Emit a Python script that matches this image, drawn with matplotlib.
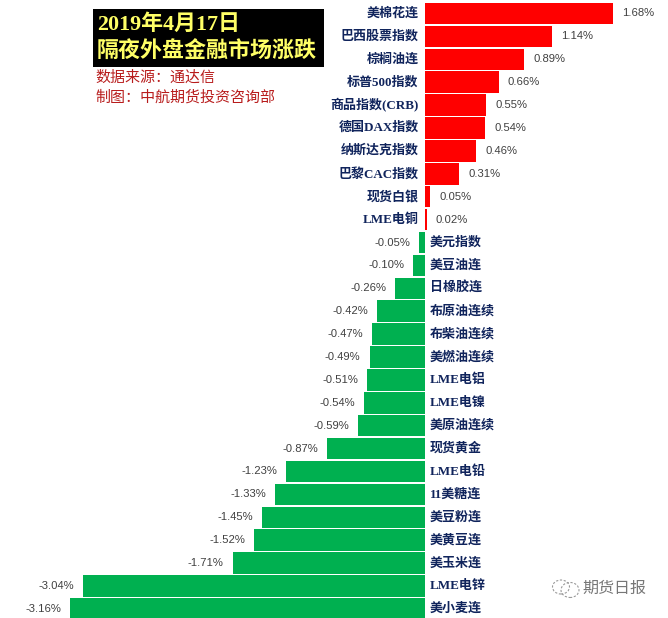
import matplotlib
matplotlib.use('Agg')
import matplotlib.pyplot as plt
from matplotlib.patches import Rectangle, Ellipse

# names and changes, top to bottom
names = ['美棉花连', '巴西股票指数', '棕榈油连', '标普500指数', '商品指数(CRB)', '德国DAX指数',
         '纳斯达克指数', '巴黎CAC指数', '现货白银', 'LME电铜', '美元指数', '美豆油连', '日橡胶连',
         '布原油连续', '布柴油连续', '美燃油连续', 'LME电铝', 'LME电镍', '美原油连续', '现货黄金',
         'LME电铅', '11美糖连', '美豆粉连', '美黄豆连', '美玉米连', 'LME电锌', '美小麦连']
changes = [1.68, 1.14, 0.89, 0.66, 0.55, 0.54, 0.46, 0.31, 0.05, 0.02, -0.05, -0.10, -0.26,
           -0.42, -0.47, -0.49, -0.51, -0.54, -0.59, -0.87, -1.23, -1.33, -1.45, -1.52,
           -1.71, -3.04, -3.16]

title_lines = ['2019年4月17日', '隔夜外盘金融市场涨跌']
source_lines = ['数据来源：通达信', '制图：中航期货投资咨询部']
watermark = '期货日报'

W, H = 668, 618
serif_cjk = ['Liberation Serif', 'Noto Sans CJK SC']
sans_cjk = ['Liberation Sans', 'Noto Sans CJK SC']
navy = '#10245c'


def px(n):
    # pixels to points at dpi 100
    return n * 0.72


fig = plt.figure(figsize=(W / 100, H / 100), dpi=100)
ax = fig.add_axes([0, 0, 1, 1])

# scale: 112.2 px per 1%, rows 22.9 px apart
ax.set_xlim(-424.5 / 112.2, (W - 424.5) / 112.2)
ax.set_ylim((H - 13.5) / 22.9, -13.5 / 22.9)
ax.axis('off')

rows = list(range(len(names)))
colors = ['#ff0000' if c > 0 else '#00b050' for c in changes]
ax.barh(rows, changes, height=0.94, color=colors, linewidth=0)

for r, name, c in zip(rows, names, changes):
    if c > 0:
        ax.annotate(name, (0, r), xytext=(px(-6), 0), textcoords='offset points', ha='right',
                    va='center', fontsize=px(13), fontweight='bold', color=navy, family=serif_cjk)
        ax.annotate(f'{c:.2f}%', (c, r), xytext=(px(9), 0), textcoords='offset points', ha='left',
                    va='center', fontsize=px(11.3), color='#404040', family=sans_cjk)
    else:
        ax.annotate(name, (0, r), xytext=(px(5.5), 0), textcoords='offset points', ha='left',
                    va='center', fontsize=px(13), fontweight='bold', color=navy, family=serif_cjk)
        ax.annotate(f'{c:.2f}%', (c, r), xytext=(px(-9), 0), textcoords='offset points', ha='right',
                    va='center', fontsize=px(11.3), color='#404040', family=sans_cjk)

# title block
fig.add_artist(Rectangle((93 / W, 1 - 67 / H), 231 / W, 58 / H, color='black',
                         transform=fig.transFigure, linewidth=0))
fig.text(97 / W, 1 - 25 / H, title_lines[0], color='#ffff66', fontsize=px(22),
         va='center', ha='left', family=serif_cjk, fontweight='bold')
fig.text(97 / W, 1 - 52 / H, title_lines[1], color='#ffff66', fontsize=px(22),
         va='center', ha='left', family=serif_cjk, fontweight='bold')
fig.text(95.5 / W, 1 - 77.5 / H, source_lines[0], color='#b81c1c', fontsize=px(15),
         va='center', ha='left', family=sans_cjk)
fig.text(95.5 / W, 1 - 97.5 / H, source_lines[1], color='#b81c1c', fontsize=px(15),
         va='center', ha='left', family=sans_cjk)

# watermark
for cx, cy, w, h in [(561, 587, 17, 14), (570, 590, 18, 15)]:
    fig.add_artist(Ellipse((cx / W, 1 - cy / H), w / W, h / H, fill=False, edgecolor='#9a9a9a',
                           linewidth=0.8, linestyle=(0, (2, 1.5)), transform=fig.transFigure))
fig.text(582 / W, 1 - 588 / H, watermark, color='#777777', fontsize=px(16),
         va='center', ha='left', family=sans_cjk)

fig.savefig('out.png', dpi=100)
